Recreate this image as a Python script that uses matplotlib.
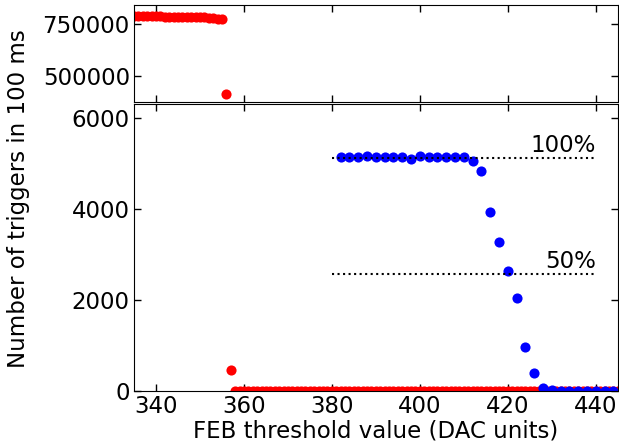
import matplotlib
matplotlib.use("Agg")
import matplotlib.pyplot as plt
import numpy as np

# Red series (threshold scan, every DAC unit)
red_x_top = list(range(333, 357))
red_y_top = [790000, 790000, 790000, 789500, 789000, 789000, 788500, 788000, 788000, 787500,
             787000, 787000, 786500, 786000, 785500, 785000, 784500, 784000, 783000, 782000,
             780000, 778000, 775000, 415000]
red_x_bot = list(range(357, 446))
red_y_bot = [460] + [3] * (len(red_x_bot) - 1)

# Blue series (every 2 DAC units)
blue_x = list(range(382, 446, 2))
blue_y = [5130, 5130, 5130, 5150, 5130, 5130, 5130, 5130, 5100, 5145,
          5130, 5130, 5130, 5130, 5130, 5050, 4820, 3930, 3270, 2640,
          2030, 960, 400, 70, 15, 10, 8, 8, 6, 6, 5, 5]

level_100 = 5120
level_50 = 2560
level_x = [380, 440]

fs = 16.5
plt.rcParams['font.family'] = 'DejaVu Sans'

fig = plt.figure(figsize=(6.19, 4.47), dpi=100)
L, R = 134 / 619, 617.7 / 619
ax_top = fig.add_axes([L, 1 - 101.7 / 447, R - L, (101.7 - 5.4) / 447])
ax_bot = fig.add_axes([L, 1 - 391 / 447, R - L, (391 - 104.3) / 447])

ms = 7.3
# top panel
ax_top.plot(red_x_top, red_y_top, 'o', color='#ff0000', ms=ms, mew=0)
ax_top.plot(red_x_bot, red_y_bot, 'o', color='#ff0000', ms=ms, mew=0)
ax_top.set_ylim(378000, 841000)
ax_top.set_yticks([500000, 750000])
ax_top.set_xlim(335, 445)
ax_top.set_xticks(range(340, 441, 20))
ax_top.tick_params(labelbottom=False)

# bottom panel
ax_bot.plot(red_x_top, red_y_top, 'o', color='#ff0000', ms=ms, mew=0)
ax_bot.plot(red_x_bot, red_y_bot, 'o', color='#ff0000', ms=ms, mew=0)
ax_bot.plot(blue_x, blue_y, 'o', color='#0000ff', ms=ms, mew=0)
ax_bot.plot(level_x, [level_100, level_100], ':', color='black', lw=1.5)
ax_bot.plot(level_x, [level_50, level_50], ':', color='black', lw=1.5)
ax_bot.text(440, level_100 + 20, '100%', ha='right', va='bottom', fontsize=fs)
ax_bot.text(440, level_50 + 20, '50%', ha='right', va='bottom', fontsize=fs)
ax_bot.set_xlim(335, 445)
ax_bot.set_ylim(0, 6290)
ax_bot.set_xticks(range(340, 441, 20))
ax_bot.set_yticks([0, 2000, 4000, 6000])
ax_bot.set_xlabel('FEB threshold value (DAC units)', fontsize=fs, labelpad=1)

for ax in (ax_top, ax_bot):
    ax.tick_params(direction='in', top=True, right=True, length=5, width=1, labelsize=fs, pad=3)

fig.text(0.03, 0.555, 'Number of triggers in 100 ms', rotation=90, ha='center', va='center', fontsize=fs)

fig.savefig('out.png', dpi=100)
